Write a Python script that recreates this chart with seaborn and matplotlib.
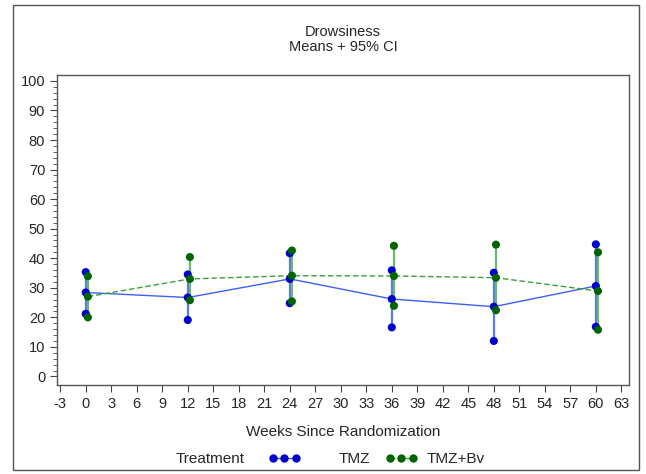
import numpy as np
import pandas as pd
import matplotlib
matplotlib.use("Agg")
import matplotlib.pyplot as plt
from matplotlib.lines import Line2D
from matplotlib.patches import Rectangle
import seaborn as sns

# ===============================
# DATA
# ===============================
weeks = [0, 12, 24, 36, 48, 60]
treatments = ["TMZ", "TMZ+Bv"]

tmz_mean = [28.4, 26.7, 33.0, 26.2, 23.6, 30.6]
tmz_lower = [21.2, 19.1, 24.8, 16.6, 12.0, 16.8]
tmz_upper = [35.3, 34.5, 41.7, 35.9, 35.1, 44.7]

bv_mean = [27.0, 33.0, 34.1, 34.0, 33.4, 28.9]
bv_lower = [20.0, 25.8, 25.4, 23.9, 22.4, 15.8]
bv_upper = [33.9, 40.4, 42.6, 44.2, 44.6, 42.0]

x_ticks = list(range(-3, 64, 3))
y_ticks = list(range(0, 101, 10))

# small horizontal offset so the two groups don't overlap
OFFSET = {"TMZ": 0.0, "TMZ+Bv": 0.25}

df = pd.DataFrame({
    "week": weeks * 2,
    "treatment": ["TMZ"] * len(weeks) + ["TMZ+Bv"] * len(weeks),
    "mean": tmz_mean + bv_mean,
    "lower": tmz_lower + bv_lower,
    "upper": tmz_upper + bv_upper,
})
df["xpos"] = df["week"] + df["treatment"].map(OFFSET)

# ===============================
# STYLE
# ===============================
sns.set_style("ticks")
plt.rcParams["font.family"] = ["Liberation Sans", "DejaVu Sans"]
plt.rcParams["axes.unicode_minus"] = False

marker_col = {"TMZ": "#0000CC", "TMZ+Bv": "#006400"}
line_col = {"TMZ": "#3F5FEF", "TMZ+Bv": "#3C9E3C"}
bar_col = {"TMZ": "#5A78F0", "TMZ+Bv": "#6CB86C"}

fig = plt.figure(figsize=(6.46, 4.74), dpi=100)
ax = fig.add_axes([57 / 646, 1 - 385 / 474, (629 - 57) / 646, (385 - 75) / 474])

# mean lines
sns.lineplot(data=df, x="xpos", y="mean", hue="treatment", style="treatment",
             palette=line_col, dashes={"TMZ": "", "TMZ+Bv": (4, 2)},
             linewidth=1.0, legend=False, ax=ax, sort=True)

# CI bars + markers
for t in treatments:
    sub = df[df["treatment"] == t]
    ax.vlines(sub["xpos"], sub["lower"], sub["upper"], color=bar_col[t], lw=1.6, zorder=3)
for t in treatments:
    sub = df[df["treatment"] == t]
    pts = pd.DataFrame({
        "x": pd.concat([sub["xpos"]] * 3),
        "y": pd.concat([sub["lower"], sub["mean"], sub["upper"]]),
    })
    sns.scatterplot(data=pts, x="x", y="y", color=marker_col[t], s=34,
                    edgecolor="none", ax=ax, zorder=4, legend=False)

ax.set_xlim(-3.38, 63.9)
ax.set_ylim(-2.9, 102.0)
ax.set_xticks(x_ticks)
ax.set_yticks(y_ticks)
ax.set_yticks(np.arange(0, 101, 2), minor=True)
ax.tick_params(axis="both", labelsize=10.5, length=5, width=0.8, color="#444444")
ax.tick_params(axis="y", which="minor", length=3, width=0.6, color="#444444")
for sp in ax.spines.values():
    sp.set_visible(True)
    sp.set_color("#555555")
    sp.set_linewidth(1.0)
ax.set_xlabel("Weeks Since Randomization", fontsize=11, labelpad=10)
ax.set_ylabel("")

fig.text(343 / 646, 1 - 32 / 474, "Drowsiness", ha="center", va="center", fontsize=10.5)
fig.text(343 / 646, 1 - 47 / 474, "Means + 95% CI", ha="center", va="center", fontsize=10.5)

# legend row: title + one legend per group (different gaps, like the original)
fig.text(210 / 646, 1 - 459 / 474, "Treatment", ha="center", va="center", fontsize=11)
leg_x = {"TMZ": 268, "TMZ+Bv": 385}
leg_pad = {"TMZ": 2.5, "TMZ+Bv": 0.65}
for t in treatments:
    h = Line2D([], [], color=line_col[t], marker="o", markersize=5,
               markerfacecolor=marker_col[t], markeredgecolor=marker_col[t],
               linestyle="-" if t == "TMZ" else "--", lw=1.0)
    leg = fig.legend([h], [t], loc="center left",
                     bbox_to_anchor=(leg_x[t] / 646, 1 - 459 / 474),
                     frameon=False, numpoints=3, fontsize=11, handlelength=2.1,
                     handletextpad=leg_pad[t], borderpad=0, borderaxespad=0)

# outer border
fig.patches.append(Rectangle((13 / 646, 1 - 470 / 474), (639 - 13) / 646, (470 - 5) / 474,
                             transform=fig.transFigure, fill=False, edgecolor="#555555",
                             lw=1.0, figure=fig))

fig.savefig("out.png", dpi=100, facecolor="white")
